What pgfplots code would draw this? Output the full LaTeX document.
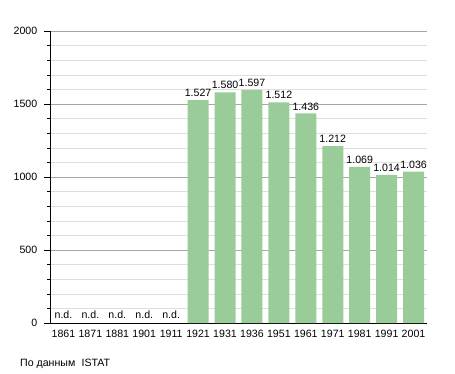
\documentclass[border=0pt]{standalone}
\usepackage{pgfplots}
\pgfplotsset{compat=1.18}
\usepackage{fontspec}
\setmainfont{Liberation Sans}
\definecolor{bargreen}{HTML}{99CC99}
\newcommand{\lf}{\fontsize{10.6}{12}\selectfont}
\begin{document}
\lf
\begin{tikzpicture}
\useasboundingbox (0,0) rectangle (455pt,373pt);
\begin{axis}[
  at={(50pt,50pt)}, anchor=south west,
  scale only axis, width=377pt, height=292pt,
  xmin=-0.5, xmax=13.5, ymin=0, ymax=2000,
  xtick={0,...,13},
  xticklabels={1861,1871,1881,1901,1911,1921,1931,1936,1951,1961,1971,1981,1991,2001},
  ytick={0,500,1000,1500,2000},
  minor ytick={100,200,300,400,600,700,800,900,1100,1200,1300,1400,1600,1700,1800,1900},
  axis x line*=bottom, axis y line*=left,
  axis line style={-, black, line width=0.8pt},
  x tick style={draw=none},
  y tick style={black, line width=0.8pt},
  minor y tick style={black, line width=0.6pt},
  tick align=outside,
  major tick length=6pt, minor tick length=3pt,
  ymajorgrids, yminorgrids,
  major grid style={color=black!35, line width=0.6pt},
  minor grid style={color=black!13, line width=0.6pt},
  yticklabel style={/pgf/number format/1000 sep={}, xshift=-3pt},
  /pgf/number format/assume math mode=true,
  tick label style={font=\lf},
  xticklabel style={yshift=2.5pt},
  clip=false,
]
\addplot[ybar, bar width=21pt, fill=bargreen, draw=none,
  nodes near coords,
  every node near coord/.append style={font=\lf, /pgf/number format/1000 sep={.}, /pgf/number format/assume math mode=true, yshift=-0.5pt},
] coordinates {(5,1527) (6,1580) (7,1597) (8,1512) (9,1436) (10,1212) (11,1069) (12,1014) (13,1036)};
\addplot[draw=none, mark=none,
  nodes near coords={n.d.},
  every node near coord/.append style={font=\lf, yshift=0.5pt},
] coordinates {(0,0) (1,0) (2,0) (3,0) (4,0)};
\end{axis}
\node[anchor=base west, inner sep=0pt, font=\lf] at (20pt,7pt) {По данным\hspace{0.6em}ISTAT};
\end{tikzpicture}
\end{document}
